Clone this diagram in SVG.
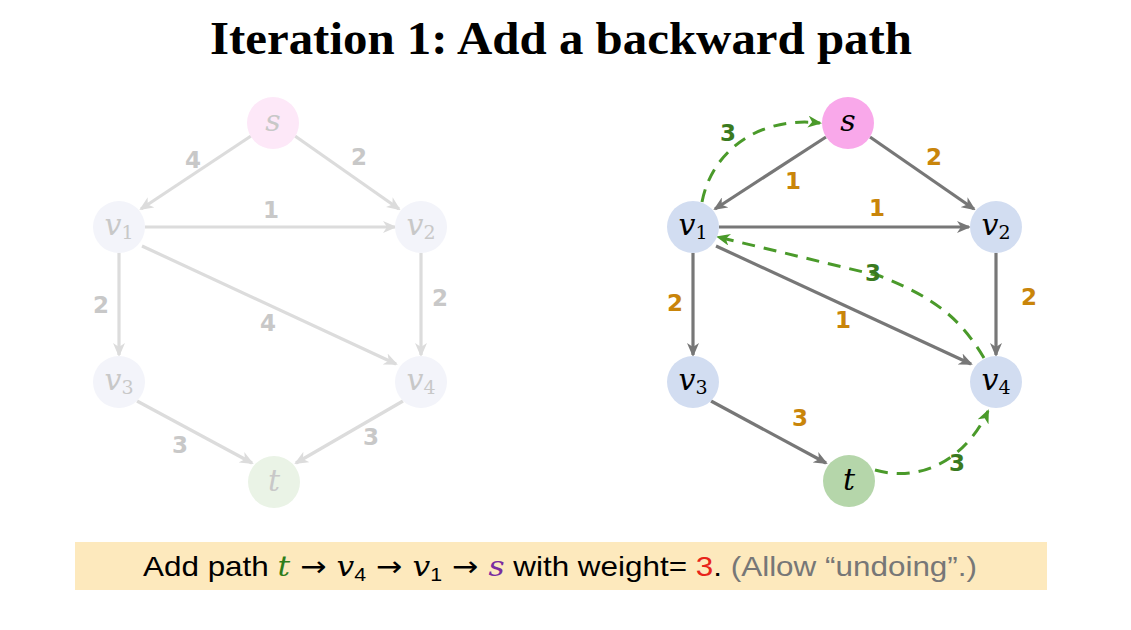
<svg xmlns="http://www.w3.org/2000/svg" width="1131" height="630" viewBox="0 0 1131 630">
<style>
.title{font-family:"Liberation Serif",serif;font-weight:bold;font-size:47px;fill:#000}
.nl{font-family:"DejaVu Serif","Liberation Serif",serif;font-style:italic;font-size:30px}
.sub{font-style:normal;font-size:19px}
.wl{font-family:"DejaVu Sans","Liberation Sans",sans-serif;font-weight:bold;font-size:23px;text-anchor:middle}
.fe{stroke:#dcdcdc;stroke-width:3.2;fill:none}
.de{stroke:#777;stroke-width:3.2;fill:none}
.ge{stroke:#4a9a2a;stroke-width:3;fill:none;stroke-dasharray:13 9}
.cap{font-family:"Liberation Sans",sans-serif;font-size:28px}
.m{font-family:"DejaVu Serif",serif;font-style:italic}
.ar{font-family:"DejaVu Sans",sans-serif}
</style>
<defs>
<marker id="af" markerWidth="14" markerHeight="12" refX="12" refY="6" orient="auto" markerUnits="userSpaceOnUse" viewBox="0 0 14 12"><path d="M0,0 L14,6 L0,12 L4,6 z" fill="#dcdcdc"/></marker>
<marker id="ad" markerWidth="14" markerHeight="12" refX="12" refY="6" orient="auto" markerUnits="userSpaceOnUse" viewBox="0 0 14 12"><path d="M0,0 L14,6 L0,12 L4,6 z" fill="#777"/></marker>
<marker id="ag" markerWidth="14" markerHeight="12" refX="12" refY="6" orient="auto" markerUnits="userSpaceOnUse" viewBox="0 0 14 12"><path d="M0,0 L14,6 L0,12 L4,6 z" fill="#4a9a2a"/></marker>
</defs>
<rect width="1131" height="630" fill="#fff"/>
<text class="title" x="210" y="54" textLength="702" lengthAdjust="spacingAndGlyphs">Iteration 1: Add a backward path</text>

<g id="connectors">
<!-- left faded graph -->
<line class="fe" x1="251" y1="136" x2="141" y2="209" marker-end="url(#af)"/>
<line class="fe" x1="295" y1="136" x2="399" y2="209" marker-end="url(#af)"/>
<line class="fe" x1="145" y1="227" x2="395" y2="227" marker-end="url(#af)"/>
<line class="fe" x1="119" y1="253" x2="119" y2="355" marker-end="url(#af)"/>
<line class="fe" x1="421" y1="253" x2="421" y2="355" marker-end="url(#af)"/>
<line class="fe" x1="142" y1="246" x2="396" y2="364" marker-end="url(#af)"/>
<line class="fe" x1="137" y1="401" x2="252" y2="463" marker-end="url(#af)"/>
<line class="fe" x1="403" y1="401" x2="296" y2="463" marker-end="url(#af)"/>
<!-- right graph -->
<line class="de" x1="826" y1="137" x2="715" y2="209" marker-end="url(#ad)"/>
<line class="de" x1="870" y1="137" x2="974" y2="209" marker-end="url(#ad)"/>
<line class="de" x1="719" y1="227" x2="969" y2="227" marker-end="url(#ad)"/>
<line class="de" x1="693" y1="253" x2="693" y2="355" marker-end="url(#ad)"/>
<line class="de" x1="996" y1="253" x2="996" y2="355" marker-end="url(#ad)"/>
<line class="de" x1="716" y1="246" x2="971" y2="364" marker-end="url(#ad)"/>
<line class="de" x1="711" y1="401" x2="826" y2="463" marker-end="url(#ad)"/>
<!-- green dashed -->
<path class="ge" d="M702,202 C712,150 760,116 820,123" marker-end="url(#ag)"/>
<path class="ge" d="M984,358 C960,318 935,298 880,276 L718,237" marker-end="url(#ag)"/>
<path class="ge" d="M875,470 C925,484 968,455 988,411" marker-end="url(#ag)"/>
</g>

<g id="labels-left" class="wl" fill="#c8c8c8">
<text x="193" y="168">4</text>
<text x="359" y="165">2</text>
<text x="271" y="218">1</text>
<text x="101" y="313">2</text>
<text x="268" y="331">4</text>
<text x="440" y="306">2</text>
<text x="180" y="453">3</text>
<text x="371" y="445">3</text>
</g>
<g id="labels-right" class="wl" fill="#c9850a">
<text x="793" y="189">1</text>
<text x="934" y="165">2</text>
<text x="877" y="216">1</text>
<text x="675" y="311">2</text>
<text x="843" y="328">1</text>
<text x="1029" y="305">2</text>
<text x="800" y="426">3</text>
</g>
<g id="labels-green" class="wl" fill="#3a7a20">
<text x="728" y="141">3</text>
<text x="873" y="281">3</text>
<text x="957" y="471">3</text>
</g>

<!-- left faded nodes -->
<g id="Ls"><circle cx="273" cy="123" r="26" fill="#fde8f8"/><text class="nl" x="273" y="131" text-anchor="middle" fill="#c8c8c8">s</text></g>
<g id="Lv1"><circle cx="119" cy="227" r="26" fill="#f3f4fa"/><text class="nl" x="119" y="235" text-anchor="middle" fill="#c8c8c8">v<tspan class="sub" dy="4">1</tspan></text></g>
<g id="Lv2"><circle cx="421" cy="227" r="26" fill="#f3f4fa"/><text class="nl" x="421" y="235" text-anchor="middle" fill="#c8c8c8">v<tspan class="sub" dy="4">2</tspan></text></g>
<g id="Lv3"><circle cx="119" cy="382" r="26" fill="#f3f4fa"/><text class="nl" x="119" y="390" text-anchor="middle" fill="#c8c8c8">v<tspan class="sub" dy="4">3</tspan></text></g>
<g id="Lv4"><circle cx="421" cy="382" r="26" fill="#f3f4fa"/><text class="nl" x="421" y="390" text-anchor="middle" fill="#c8c8c8">v<tspan class="sub" dy="4">4</tspan></text></g>
<g id="Lt"><circle cx="274" cy="482" r="26" fill="#eaf3e6"/><text class="nl" x="274" y="491" text-anchor="middle" fill="#c8c8c8">t</text></g>

<!-- right nodes -->
<g id="Rs"><circle cx="848" cy="123" r="26" fill="#f9a8ea"/><text class="nl" x="848" y="131" text-anchor="middle" fill="#000">s</text></g>
<g id="Rv1"><circle cx="693" cy="227" r="26" fill="#d2ddf1"/><text class="nl" x="693" y="235" text-anchor="middle" fill="#000">v<tspan class="sub" dy="4">1</tspan></text></g>
<g id="Rv2"><circle cx="996" cy="227" r="26" fill="#d2ddf1"/><text class="nl" x="996" y="235" text-anchor="middle" fill="#000">v<tspan class="sub" dy="4">2</tspan></text></g>
<g id="Rv3"><circle cx="693" cy="382" r="26" fill="#d2ddf1"/><text class="nl" x="693" y="390" text-anchor="middle" fill="#000">v<tspan class="sub" dy="4">3</tspan></text></g>
<g id="Rv4"><circle cx="996" cy="382" r="26" fill="#d2ddf1"/><text class="nl" x="996" y="390" text-anchor="middle" fill="#000">v<tspan class="sub" dy="4">4</tspan></text></g>
<g id="Rt"><circle cx="849" cy="481" r="26" fill="#b5d6aa"/><text class="nl" x="849" y="490" text-anchor="middle" fill="#000">t</text></g>

<g id="caption">
<rect x="75" y="542" width="972" height="48" fill="#fde9bd"/>
<text class="cap" x="143" y="576" fill="#000" textLength="834" lengthAdjust="spacingAndGlyphs">Add path <tspan class="m" fill="#2e7d1a">t</tspan><tspan class="ar"> → </tspan><tspan class="m">v</tspan><tspan font-size="19" dy="5">4</tspan><tspan class="ar" dy="-5"> → </tspan><tspan class="m">v</tspan><tspan font-size="19" dy="5">1</tspan><tspan class="ar" dy="-5"> → </tspan><tspan class="m" fill="#7a2ca0">s</tspan> with weight= <tspan fill="#e8241a">3</tspan>. <tspan fill="#777">(Allow “undoing”.)</tspan></text>
</g>
</svg>
